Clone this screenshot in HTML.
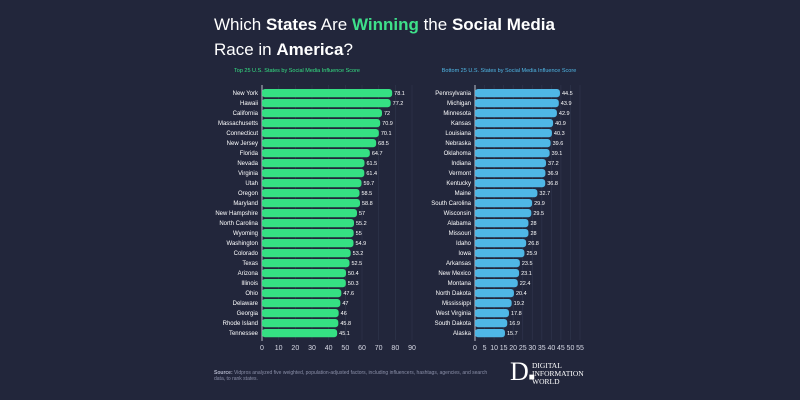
<!DOCTYPE html>
<html><head><meta charset="utf-8"><style>
body{margin:0;width:800px;height:400px;background:#22263b;font-family:"Liberation Sans",sans-serif;overflow:hidden;position:relative}
.t{position:absolute;left:214px;color:#fff;font-size:17px}
.t b{font-weight:bold}
</style></head><body>
<div class="t" style="top:15px">Which <b>States</b> Are <b style="color:#3ee08a">Winning</b> the <b>Social Media</b></div>
<div class="t" style="top:40px">Race in <b>America</b>?</div>
<svg id="c" width="800" height="400" style="position:absolute;left:0;top:0"></svg>
<div style="position:absolute;left:214px;top:370px;font-size:5px;color:#8a8fa8;width:280px"><b style="color:#b0b4c8">Source:</b> Vidpros analyzed five weighted, population-adjusted factors, including influencers, hashtags, agencies, and search data, to rank states.</div>
<div style="position:absolute;left:510px;top:357px;color:#fff;font-family:'Liberation Serif',serif;font-size:26px">D<span style="font-size:10px">■</span></div>
<div style="position:absolute;left:532px;top:362px;color:#fff;font-family:'Liberation Serif',serif;font-size:7.5px;line-height:8px">DIGITAL<br>INFORMATION<br>WORLD</div>
<script>
const leftStates=["New York","Hawaii","California","Massachusetts","Connecticut","New Jersey","Florida","Nevada","Virginia","Utah","Oregon","Maryland","New Hampshire","North Carolina","Wyoming","Washington","Colorado","Texas","Arizona","Illinois","Ohio","Delaware","Georgia","Rhode Island","Tennessee"];
const leftValues=[78.1,77.2,72,70.9,70.1,68.5,64.7,61.5,61.4,59.7,58.5,58.8,57,55.2,55,54.9,53.2,52.5,50.4,50.3,47.6,47,46,45.8,45.1];
const leftTicks=[0,10,20,30,40,50,60,70,80,90];
const rightStates=["Pennsylvania","Michigan","Minnesota","Kansas","Louisiana","Nebraska","Oklahoma","Indiana","Vermont","Kentucky","Maine","South Carolina","Wisconsin","Alabama","Missouri","Idaho","Iowa","Arkansas","New Mexico","Montana","North Dakota","Mississippi","West Virginia","South Dakota","Alaska"];
const rightValues=[44.5,43.9,42.9,40.9,40.3,39.6,39.1,37.2,36.9,36.8,32.7,29.9,29.5,28,28,26.8,25.9,23.5,23.1,22.4,20.4,19.2,17.8,16.9,15.7];
const rightTicks=[0,5,10,15,20,25,30,35,40,45,50,55];
const svg=document.getElementById('c');const NS="http://www.w3.org/2000/svg";
function mk(t,a,txt){const e=document.createElementNS(NS,t);for(const k in a)e.setAttribute(k,a[k]);if(txt!=null)e.textContent=txt;svg.appendChild(e);return e;}
function panel(x0,max,x1,states,vals,ticks,color,title,tx,key){
 const sx=v=>x0+(x1-x0)*v/max;const sy=i=>93+i*10;
 const tt=mk('text',{x:tx,y:72,fill:color,'font-size':5.5,'text-anchor':'middle'},title);
 
 
 ticks.forEach(t=>{const g=mk('line',{x1:sx(t),x2:sx(t),y1:85,y2:340,stroke:'#2f344c','stroke-width':0.7});
  
  
  const l=mk('text',{x:sx(t),y:350,fill:'#d8dae6','font-size':7,'text-anchor':'middle'},t);
  
  });
 const ax=mk('line',{x1:x0,x2:x0,y1:85,y2:341,stroke:'#e0e2ea','stroke-width':0.8});
 
 
 states.forEach((s,i)=>{const y=sy(i);
  const b=mk('rect',{x:x0,y:y-4,width:Math.max(0,sx(vals[i])-x0),height:8.2,rx:3,fill:color});
  
  
  const n=mk('text',{x:x0-4,y:y+2.2,fill:'#fff','font-size':6,'text-anchor':'end'},s);
  
  
  const v=mk('text',{x:sx(vals[i])+2,y:y+2.2,fill:'#fff','font-size':5.5},vals[i]);
  
  });
}
panel(262,90,412,leftStates,leftValues,leftTicks,'#35e083','Top 25 U.S. States by Social Media Influence Score',297,'top');
panel(475,55,580,rightStates,rightValues,rightTicks,'#4fb7e6','Bottom 25 U.S. States by Social Media Influence Score',509,'bottom');
</script>
</body></html>
